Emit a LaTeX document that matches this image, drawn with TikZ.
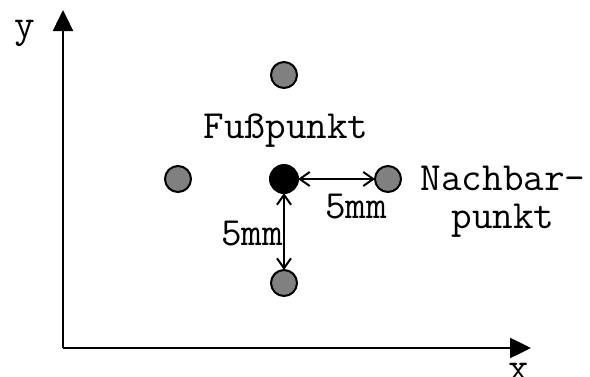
\documentclass[tikz,border=0pt]{standalone}
\usepackage{fontspec}
\usetikzlibrary{arrows.meta}

\begin{document}
\begin{tikzpicture}[x=1pt,y=-1pt,line width=2pt,
    font=\ttfamily\fontsize{40}{38}\selectfont,
    gitter/.style={circle,draw,fill=gray,minimum size=26pt,inner sep=0pt,outer sep=0pt},
    fuss/.style={gitter,fill=black,minimum size=28pt},
    achse/.style={-{Triangle[length=21pt,width=20pt]},line width=2.5pt},
    mass/.style={{Straight Barb[length=10pt,width=14pt]}-{Straight Barb[length=10pt,width=14pt]}}]

        \useasboundingbox (0,0) rectangle (590,376);

        \coordinate (o)  at (63,348);
        \coordinate (xe) at (531,348);
        \coordinate (ye) at (63,10);
        \draw[achse] (o) -- (xe);
        \draw[achse] (o) -- (ye);

        \begin{scope}[every node/.style={gitter}]
          \node (n1) at (284,75)  {};
          \node (n2) at (178,179) {};
          \node (n3) at (388,179) {};
          \node (n4) at (284,283) {};
        \end{scope}
        \node[fuss] (f) at (284,179) {};

        \path[mass] (f) edge (n3);
        \path[mass] (f) edge (n4);

        \begin{scope}[every node/.style={anchor=base,inner sep=0pt}]
          \node (lx)  at (519,380) {x};
          \node (ly)  at (25,37)   {y};
          \node (lf)  at (286,138) {Fußpunkt};
          \node (lm1) at (356,218) {5mm};
          \node (lm2) at (252,245) {5mm};
          \node[align=center] (ln) at (503,228) {Nachbar-\\punkt};
        \end{scope}

      \end{tikzpicture}
\end{document}
